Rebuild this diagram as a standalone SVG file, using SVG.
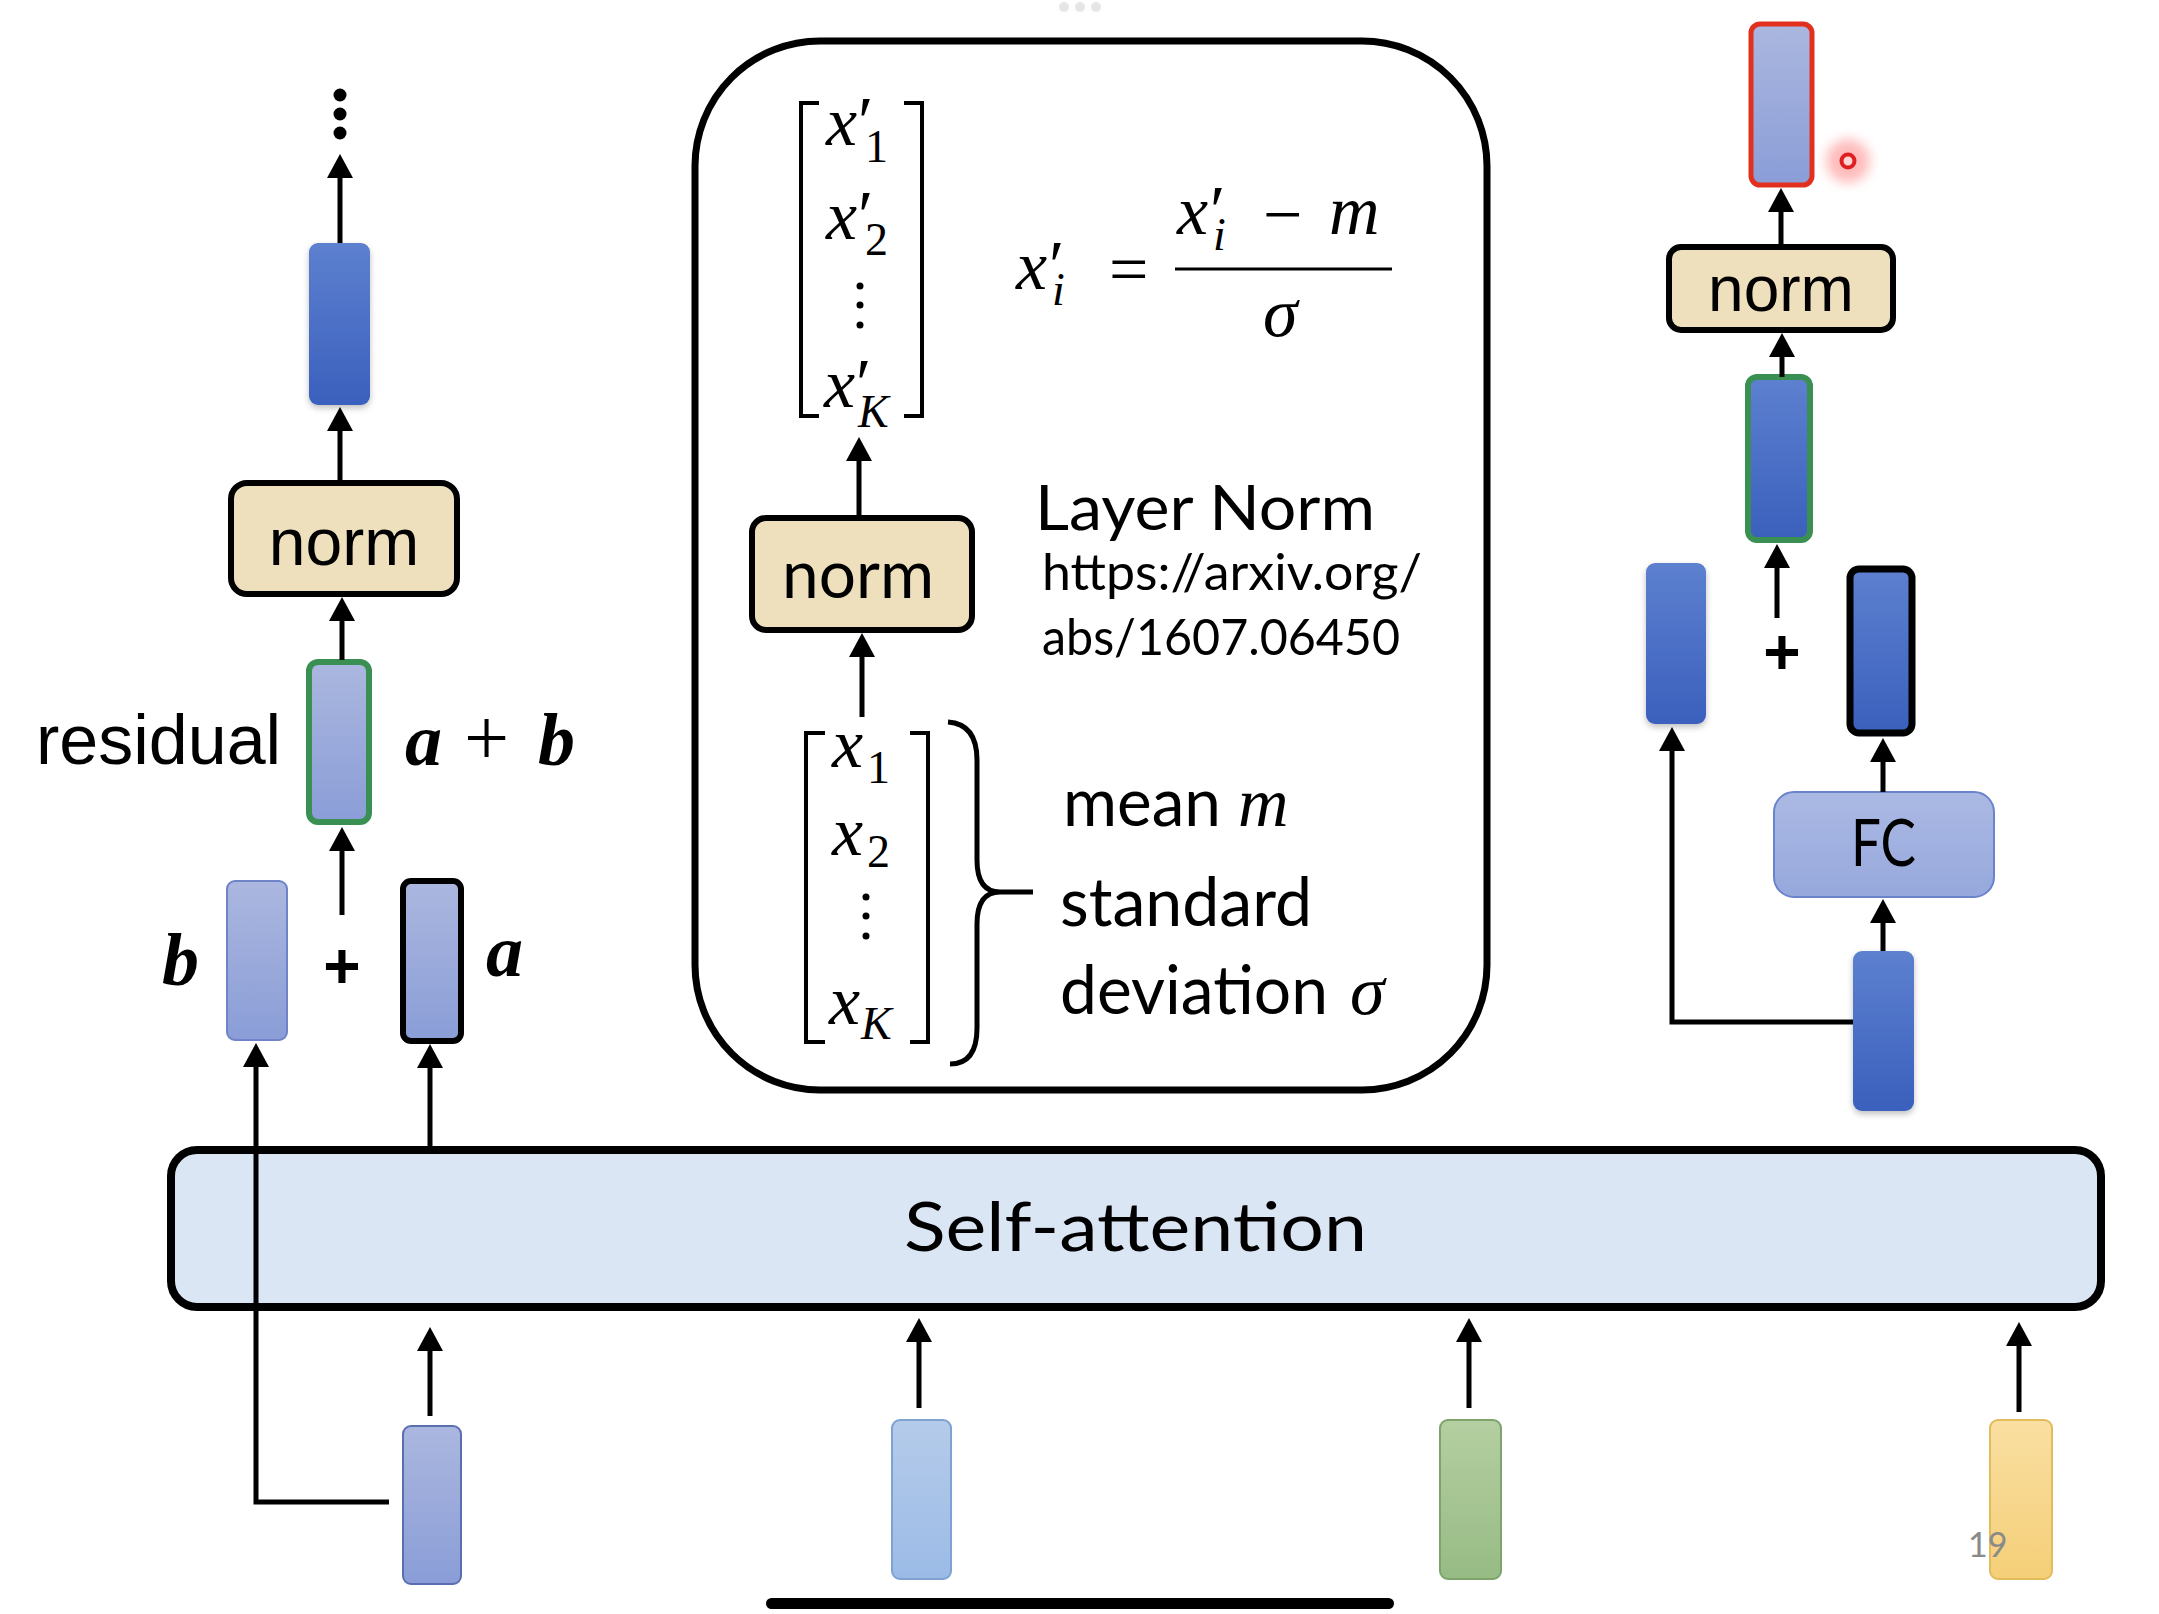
<svg xmlns="http://www.w3.org/2000/svg" width="2159" height="1614" viewBox="0 0 2159 1614">
<defs>
  <linearGradient id="gDark" x1="0" y1="0" x2="0" y2="1"><stop offset="0" stop-color="#5d80cf"/><stop offset="1" stop-color="#3a60bd"/></linearGradient>
  <linearGradient id="gLav" x1="0" y1="0" x2="0" y2="1"><stop offset="0" stop-color="#abb7df"/><stop offset="1" stop-color="#8a9dd7"/></linearGradient>
  <linearGradient id="gLight" x1="0" y1="0" x2="0" y2="1"><stop offset="0" stop-color="#b5cbea"/><stop offset="1" stop-color="#9bbbe6"/></linearGradient>
  <linearGradient id="gGreen" x1="0" y1="0" x2="0" y2="1"><stop offset="0" stop-color="#b4cfa1"/><stop offset="1" stop-color="#97bb84"/></linearGradient>
  <linearGradient id="gYellow" x1="0" y1="0" x2="0" y2="1"><stop offset="0" stop-color="#f9dfa2"/><stop offset="1" stop-color="#f5cf78"/></linearGradient>
  <linearGradient id="gFC" x1="0" y1="0" x2="0" y2="1"><stop offset="0" stop-color="#abb9e4"/><stop offset="1" stop-color="#96a8dc"/></linearGradient>
  <filter id="sh" x="-30%" y="-10%" width="160%" height="125%"><feDropShadow dx="0" dy="3" stdDeviation="3" flood-color="#000" flood-opacity="0.25"/></filter>
  <filter id="glow" x="-100%" y="-100%" width="300%" height="300%"><feGaussianBlur stdDeviation="6"/></filter>
  <marker id="ah" viewBox="0 0 24 26" refX="14" refY="13" markerWidth="24" markerHeight="26" markerUnits="userSpaceOnUse" orient="auto"><path d="M0,0 L24,13 L0,26 Z" fill="#000"/></marker>
  <style>
    .conn { stroke:#000; stroke-width:5; fill:none; marker-end:url(#ah); }
    .dark { fill:url(#gDark); filter:url(#sh); }
    .lav { fill:url(#gLav); stroke:#6f84c8; stroke-width:2; }
    .norm { fill:#eedfbd; stroke:#000; stroke-width:6; }
    .sans { font-family:"Liberation Sans", Arial, sans-serif; fill:#000; }
    .cal { font-family:Lato, "Open Sans", sans-serif; fill:#000; }
    .mi { font-family:"Liberation Serif","DejaVu Serif", serif; font-style:italic; font-size:70px; fill:#000; }
    .sub { font-family:"Liberation Serif","DejaVu Serif", serif; font-style:normal; font-size:46px; }
    .subi { font-family:"Liberation Serif","DejaVu Serif", serif; font-style:italic; font-size:46px; }
    .pr { font-family:"Liberation Serif","DejaVu Serif", serif; font-style:normal; font-size:70px; }
    .bi { font-family:"Liberation Serif","DejaVu Serif", serif; font-style:italic; font-weight:bold; font-size:74px; fill:#000; }
    .brk { stroke:#000; stroke-width:4; fill:none; }
  </style>
</defs>
<rect width="2159" height="1614" fill="#ffffff"/>
<g id="topdots" fill="#e6e6e6"><circle cx="1064" cy="7" r="5"/><circle cx="1080" cy="7" r="5"/><circle cx="1096" cy="7" r="5"/></g>

<!-- Self-attention -->
<g id="self-attention">
  <rect x="171" y="1150" width="1930" height="157" rx="26" fill="#dbe6f4" stroke="#000" stroke-width="8"/>
  <text class="cal" x="904" y="1251" font-size="68" textLength="463" lengthAdjust="spacingAndGlyphs">Self-attention</text>
</g>

<!-- Inputs -->
<g id="input1"><rect x="403" y="1426" width="58" height="158" rx="8" fill="url(#gLav)" stroke="#5a6fb0" stroke-width="2"/></g>
<g id="input2"><rect x="892" y="1420" width="59" height="159" rx="8" fill="url(#gLight)" stroke="#7ea2d2" stroke-width="2"/></g>
<g id="input3"><rect x="1440" y="1420" width="61" height="159" rx="8" fill="url(#gGreen)" stroke="#7ea46b" stroke-width="2"/></g>
<g id="input4"><rect x="1990" y="1420" width="62" height="159" rx="8" fill="url(#gYellow)" stroke="#e2bb5a" stroke-width="2"/></g>
<text x="1968" y="1557" font-family="Lato, sans-serif" font-size="34" fill="#8a8a8a">19</text>
<rect x="766" y="1598" width="628" height="11" rx="5.5" fill="#000"/>

<!-- Left column -->
<g id="dots-left" fill="#000"><circle cx="340" cy="95" r="6.5"/><circle cx="340" cy="114" r="6.5"/><circle cx="340" cy="133" r="6.5"/></g>
<g id="left-top"><rect class="dark" x="309" y="243" width="61" height="162" rx="9"/></g>
<g id="left-norm"><rect class="norm" x="231" y="483" width="226" height="111" rx="16"/><text class="sans" x="344" y="565" font-size="66" text-anchor="middle">norm</text></g>
<g id="left-residual"><rect x="309" y="662" width="60" height="160" rx="9" fill="url(#gLav)" stroke="#3a8f52" stroke-width="6"/></g>
<text class="sans" x="36" y="764" font-size="70">residual</text>
<text class="bi"><tspan x="405" y="765">a</tspan><tspan x="464" y="765" font-style="normal" font-weight="normal" font-size="80">+</tspan><tspan x="538" y="765">b</tspan></text>
<g id="left-b"><rect class="lav" x="227" y="881" width="60" height="159" rx="8"/></g>
<g id="left-a"><rect x="403" y="881" width="58" height="160" rx="8" fill="url(#gLav)" stroke="#000" stroke-width="6"/></g>
<text class="bi" x="162" y="985" font-size="76">b</text>
<text class="bi" x="486" y="976" font-size="76">a</text>
<text class="sans" x="342" y="988" font-size="64" font-weight="bold" text-anchor="middle">+</text>

<!-- Center panel -->
<g id="layernorm-panel">
  <rect x="695" y="41" width="792" height="1049" rx="125" fill="#fff" stroke="#000" stroke-width="7"/>
  <!-- top matrix -->
  <path class="brk" d="M819,103 H801 V416 H819 M904,103 H922 V416 H904"/>
  <text class="mi"><tspan x="826" y="145">x</tspan><tspan class="pr" x="858" y="145">′</tspan><tspan class="sub" x="865" y="162">1</tspan></text>
  <text class="mi"><tspan x="826" y="239">x</tspan><tspan class="pr" x="858" y="239">′</tspan><tspan class="sub" x="865" y="255">2</tspan></text>
  <g fill="#000"><circle cx="860" cy="286" r="3.5"/><circle cx="860" cy="305" r="3.5"/><circle cx="860" cy="325" r="3.5"/></g>
  <text class="mi"><tspan x="824" y="407">x</tspan><tspan class="pr" x="856" y="407">′</tspan><tspan class="subi" x="858" y="427">K</tspan></text>
  <!-- formula -->
  <text class="mi" font-size="72"><tspan x="1016" y="289">x</tspan><tspan class="pr" x="1049" y="289" font-size="72">′</tspan><tspan class="subi" x="1052" y="305">i</tspan></text>
  <text class="mi" x="1128" y="293" font-style="normal" font-size="90" text-anchor="middle">=</text>
  <line x1="1175" y1="269" x2="1392" y2="269" stroke="#000" stroke-width="3"/>
  <text class="mi" font-size="72"><tspan x="1177" y="234">x</tspan><tspan class="pr" x="1210" y="234" font-size="72">′</tspan><tspan class="subi" x="1213" y="250">i</tspan></text>
  <text class="mi" x="1282" y="238" font-style="normal" font-size="92" text-anchor="middle">−</text>
  <text class="mi" x="1329" y="234" font-size="76">m</text>
  <text class="mi" x="1263" y="336" font-size="76">σ</text>
  <!-- norm -->
  <rect class="norm" x="752" y="518" width="220" height="112" rx="14"/>
  <text class="cal" x="782" y="598" font-size="68" textLength="152" lengthAdjust="spacingAndGlyphs">norm</text>
  <text class="cal" x="1035" y="530" font-size="62" textLength="340" lengthAdjust="spacingAndGlyphs">Layer Norm</text>
  <text class="cal" x="1042" y="590" font-size="50" textLength="380" lengthAdjust="spacingAndGlyphs">https://arxiv.org/</text>
  <text class="cal" x="1042" y="655" font-size="50" textLength="358" lengthAdjust="spacingAndGlyphs">abs/1607.06450</text>
  <!-- bottom matrix -->
  <path class="brk" d="M825,733 H806 V1042 H825 M910,733 H928 V1042 H910"/>
  <text class="mi"><tspan x="832" y="767">x</tspan><tspan class="sub" x="867" y="783">1</tspan></text>
  <text class="mi"><tspan x="832" y="855">x</tspan><tspan class="sub" x="867" y="867">2</tspan></text>
  <g fill="#000"><circle cx="866" cy="897" r="3.5"/><circle cx="866" cy="916" r="3.5"/><circle cx="866" cy="936" r="3.5"/></g>
  <text class="mi"><tspan x="829" y="1024">x</tspan><tspan class="subi" x="861" y="1039">K</tspan></text>
  <path d="M948,722 Q977,724 977,760 L977,860 Q977,892 1000,892 L1033,892 M1000,892 Q977,892 977,924 L977,1028 Q977,1064 950,1064" fill="none" stroke="#000" stroke-width="5"/>
  <text class="cal" x="1063" y="826" font-size="68" textLength="158" lengthAdjust="spacingAndGlyphs">mean</text>
  <text class="mi" x="1238" y="826" font-size="76">m</text>
  <text class="cal" x="1060" y="926" font-size="68" textLength="252" lengthAdjust="spacingAndGlyphs">standard</text>
  <text class="cal" x="1060" y="1014" font-size="68" textLength="268" lengthAdjust="spacingAndGlyphs">deviation</text>
  <text class="mi" x="1350" y="1014" font-size="76">σ</text>
</g>

<!-- Right column -->
<g id="right-out"><rect x="1751" y="24" width="61" height="161" rx="9" fill="url(#gLav)" stroke="#e2301f" stroke-width="5"/></g>
<g id="pointer"><circle cx="1848" cy="161" r="22" fill="#ff6a6a" opacity="0.45" filter="url(#glow)"/><circle cx="1848" cy="161" r="6.5" fill="#ffd6d6" stroke="#e02020" stroke-width="4"/></g>
<g id="right-norm"><rect class="norm" x="1669" y="247" width="224" height="83" rx="12"/><text class="sans" x="1781" y="311" font-size="64" text-anchor="middle">norm</text></g>
<g id="right-residual"><rect x="1748" y="377" width="62" height="163" rx="9" fill="url(#gDark)" stroke="#3a8f52" stroke-width="6"/></g>
<text class="sans" x="1782" y="674" font-size="64" font-weight="bold" text-anchor="middle">+</text>
<g id="right-left"><rect class="dark" x="1646" y="563" width="60" height="161" rx="9"/></g>
<g id="right-black"><rect x="1850" y="569" width="62" height="164" rx="9" fill="url(#gDark)" stroke="#000" stroke-width="7"/></g>
<g id="right-fc"><rect x="1774" y="792" width="220" height="105" rx="20" fill="url(#gFC)" stroke="#6a84cc" stroke-width="2"/><text class="cal" x="1851" y="866" font-size="66" textLength="65" lengthAdjust="spacingAndGlyphs">FC</text></g>
<g id="right-in"><rect class="dark" x="1853" y="951" width="61" height="160" rx="9"/></g>

<!-- Connectors -->
<g id="connectors">
  <line class="conn" x1="340" y1="243" x2="340" y2="164"/>
  <line class="conn" x1="340" y1="483" x2="340" y2="417"/>
  <line class="conn" x1="342" y1="660" x2="342" y2="607"/>
  <line class="conn" x1="342" y1="915" x2="342" y2="837"/>
  <path class="conn" d="M389,1502 H256 V1053"/>
  <line class="conn" x1="430" y1="1146" x2="430" y2="1054"/>
  <line class="conn" x1="430" y1="1416" x2="430" y2="1337"/>
  <line class="conn" x1="919" y1="1408" x2="919" y2="1328"/>
  <line class="conn" x1="1469" y1="1408" x2="1469" y2="1328"/>
  <line class="conn" x1="2019" y1="1412" x2="2019" y2="1332"/>
  <line class="conn" x1="859" y1="518" x2="859" y2="447"/>
  <line class="conn" x1="862" y1="717" x2="862" y2="643"/>
  <line class="conn" x1="1781" y1="247" x2="1781" y2="198"/>
  <line class="conn" x1="1782" y1="377" x2="1782" y2="343"/>
  <line class="conn" x1="1777" y1="618" x2="1777" y2="554"/>
  <line class="conn" x1="1883" y1="792" x2="1883" y2="748"/>
  <line class="conn" x1="1883" y1="951" x2="1883" y2="909"/>
  <path class="conn" d="M1853,1022 H1672 V737"/>
</g>
</svg>
